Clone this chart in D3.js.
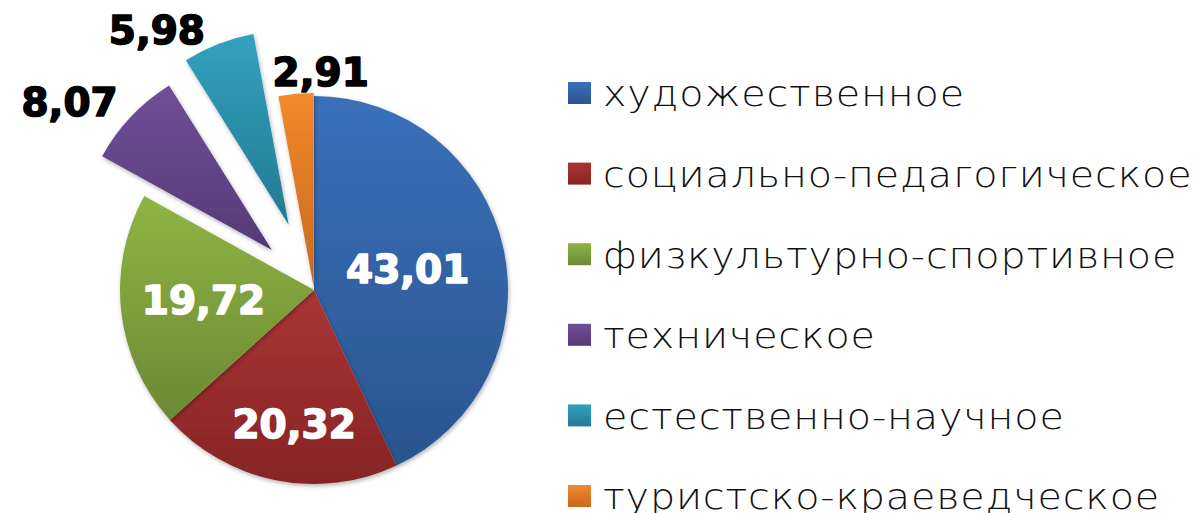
<!DOCTYPE html>
<html lang="ru">
<head>
<meta charset="UTF-8">
<title>Направленности</title>
<script src="https://cdnjs.cloudflare.com/ajax/libs/d3/7.8.5/d3.min.js"></script>
<style>
    body { margin: 0; background: #fff; }
    svg { display: block; }
    .val { font-family: 'DejaVu Sans', sans-serif; font-weight: bold; font-size: 39px; text-anchor: middle; dominant-baseline: central; stroke-width: 1.6px; stroke-linejoin: round; }
    .leg { font-family: 'DejaVu Sans', sans-serif; font-weight: 200; font-size: 36px; letter-spacing: 0.8px; fill: #111; dominant-baseline: central; }
</style>
</head>
<body>
<svg id="chart" width="1197" height="513"></svg>
<script>
    // data
    const categories = ["художественное", "социально-педагогическое", "физкультурно-спортивное",
                        "техническое", "естественно-научное", "туристско-краеведческое"];
    const values = [43.01, 20.32, 19.72, 8.07, 5.98, 2.91];
    const labels = ["43,01", "20,32", "19,72", "8,07", "5,98", "2,91"];

    // styles
    const colorsTop = ["#3a70b9", "#ab3535", "#8fb443", "#704f98", "#32a2bf", "#f2892b"];
    const colorsBot = ["#2a558f", "#862424", "#6b8934", "#553a77", "#237a90", "#c8691f"];
    const explode = [0, 0, 0, 58, 70, 3];
    // label: [radius from centre, angle nudge deg, colour]
    const labelPlace = [[96, 0, "#fff"], [136, -3, "#fff"], [111, 1, "#fff"],
                        [308, -6, "#000"], [303, -10, "#000"], [218, 7, "#000"]];

    const cx = 314, cy = 290, R = 194;
    const svg = d3.select("#chart");
    const defs = svg.append("defs");

    const f = defs.append("filter").attr("id", "sh").attr("x", "-20%").attr("y", "-20%")
        .attr("width", "140%").attr("height", "140%");
    f.append("feDropShadow").attr("dx", 1).attr("dy", 2).attr("stdDeviation", 2)
        .attr("flood-color", "#000").attr("flood-opacity", 0.3);

    categories.forEach((c, i) => {
        const g = defs.append("linearGradient").attr("id", "g" + i)
            .attr("x1", 0).attr("y1", 0).attr("x2", 0).attr("y2", 1);
        g.append("stop").attr("offset", "0%").attr("stop-color", colorsTop[i]);
        g.append("stop").attr("offset", "100%").attr("stop-color", colorsBot[i]);
    });

    const pie = d3.pie().sort(null).value(d => d);
    const arcs = pie(values);
    const arc = d3.arc().innerRadius(0).outerRadius(R);

    const gPie = svg.append("g").attr("transform", `translate(${cx},${cy})`);

    gPie.selectAll("path").data(arcs).join("path")
        .attr("d", arc)
        .attr("fill", (d, i) => `url(#g${i})`)
        .attr("filter", "url(#sh)")
        .attr("transform", (d, i) => {
            const a = (d.startAngle + d.endAngle) / 2;
            return `translate(${explode[i] * Math.sin(a)},${-explode[i] * Math.cos(a)})`;
        });

    gPie.selectAll("text").data(arcs).join("text")
        .attr("class", "val")
        .attr("fill", (d, i) => labelPlace[i][2])
        .attr("stroke", (d, i) => labelPlace[i][2])
        .attr("x", (d, i) => {
            const a = (d.startAngle + d.endAngle) / 2 + labelPlace[i][1] * Math.PI / 180;
            return labelPlace[i][0] * Math.sin(a);
        })
        .attr("y", (d, i) => {
            const a = (d.startAngle + d.endAngle) / 2 + labelPlace[i][1] * Math.PI / 180;
            return -labelPlace[i][0] * Math.cos(a);
        })
        .text((d, i) => labels[i]);

    // legend
    const ly = d3.scalePoint().domain(categories).range([93, 496]);
    const leg = svg.append("g").selectAll("g").data(categories).join("g")
        .attr("transform", d => `translate(568,${ly(d)})`);
    leg.append("rect").attr("x", 0).attr("y", -11).attr("width", 23).attr("height", 22)
        .attr("fill", (d, i) => `url(#g${i})`);
    leg.append("text").attr("class", "leg")
        .attr("transform", "translate(35,1) scale(1.1,1)")
        .text(d => d);
</script>
</body>
</html>
